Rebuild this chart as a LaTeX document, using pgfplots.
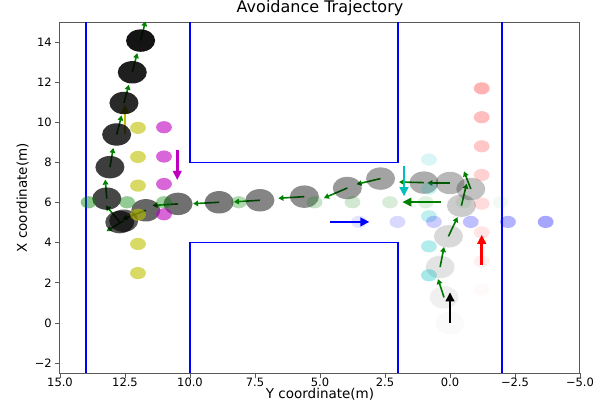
\documentclass[border=0pt]{standalone}
\usepackage{fontspec}
\setmainfont{DejaVu Sans}
\usepackage{pgfplots}
\pgfplotsset{compat=1.18}
\usetikzlibrary{arrows.meta}

\definecolor{mgreen}{rgb}{0,0.5,0}
\definecolor{mcyan}{rgb}{0,0.75,0.75}
\definecolor{mmag}{rgb}{0.75,0,0.75}
\definecolor{myel}{rgb}{0.75,0.75,0}

% filled disc without outline
\pgfdeclareplotmark{fdisc}{\pgfpathcircle{\pgfpointorigin}{\pgfplotmarksize}\pgfusepathqfill}

% discs (ellipses on screen), opacity per point from column a
\pgfplotsset{
  disc/.style 2 args={scatter, only marks, mark=fdisc, mark size=#1,
    mark options={xscale=1.297},
    point meta=\thisrow{a},
    visualization depends on={value \thisrow{a}\as\alp},
    scatter/use mapped color={draw=#2, fill=#2},
    scatter/@pre marker code/.append code={\pgfsetfillopacity{\alp}}},
  wall/.style={blue, line width=1.1pt},
}

\begin{document}
\begin{tikzpicture}
\begin{axis}[
  at={(0,0)}, anchor=south west,
  scale only axis, width=520pt, height=351pt,
  x dir=reverse, xmin=-5, xmax=15, ymin=-2.5, ymax=15,
  xtick={15,12.5,10,7.5,5,2.5,0,-2.5,-5},
  xticklabels={15.0,12.5,10.0,7.5,5.0,2.5,0.0,−2.5,−5.0},
  ytick={-2,0,2,4,6,8,10,12,14},
  yticklabels={−2,0,2,4,6,8,10,12,14},
  tick align=outside, tick pos=left,
  major tick length=5pt,
  every tick/.style={black!65, line width=0.9pt},
  axis line style={black!65, line width=1pt},
  ticklabel style={font=\fontsize{11.5}{13}\selectfont, inner sep=0pt},
  xticklabel style={anchor=base, yshift=-8pt},
  yticklabel style={anchor=east, xshift=-3pt},
  title={Avoidance Trajectory},
  title style={font=\fontsize{16}{18}\selectfont, at={(axis description cs:0.5,1)}, anchor=base, yshift=4pt, inner sep=0pt},
  xlabel={Y coordinate(m)},
  xlabel style={font=\fontsize{13.5}{15}\selectfont, at={(axis description cs:0.5,0)}, anchor=base, yshift=-25pt, inner sep=0pt},
  ylabel={X coordinate(m)},
  ylabel style={font=\fontsize{13.5}{15}\selectfont, at={(axis description cs:-0.072,0.5)}, anchor=center, inner sep=0pt},
]
% walls
\addplot[wall] coordinates {(14,-2.5) (14,15)};
\addplot[wall] coordinates {(10,15) (10,8) (2,8) (2,15)};
\addplot[wall] coordinates {(10,-2.5) (10,4) (2,4) (2,-2.5)};
\addplot[wall] coordinates {(-2,-2.5) (-2,15)};

% robot trajectory
\addplot[disc={11.2pt}{black}] table {
x y a
0.00 0.00 0.02
0.23 1.28 0.06
0.38 2.79 0.11
0.06 4.32 0.15
-0.44 5.85 0.20
-0.80 6.68 0.24
0.00 6.98 0.28
1.00 7.00 0.32
2.67 7.20 0.36
3.95 6.73 0.40
5.60 6.30 0.44
7.31 6.12 0.48
8.88 6.02 0.52
10.46 5.94 0.56
11.70 5.62 0.60
12.55 5.10 0.64
12.70 5.03 0.68
13.20 6.20 0.72
13.08 7.77 0.76
12.82 9.40 0.80
12.54 10.97 0.84
12.22 12.50 0.88
11.90 14.08 0.92
};

% other agents
\addplot[disc={6.1pt}{myel}] table {
x y a
12.0 9.73 0.6
12.0 8.28 0.6
12.0 6.85 0.6
12.0 5.40 0.6
12.0 3.94 0.6
12.0 2.49 0.6
};
\addplot[disc={6.1pt}{mmag}] table {
x y a
11.0 9.76 0.6
11.0 8.30 0.6
11.0 6.93 0.6
11.0 5.42 0.6
};
\addplot[disc={6.1pt}{mgreen}] table {
x y a
13.90 6.02 0.45
12.42 6.02 0.42
11.00 6.02 0.38
8.12 6.02 0.30
5.21 6.02 0.22
3.75 6.02 0.18
2.31 6.02 0.15
0.93 6.02 0.12
-0.52 6.02 0.08
-1.95 6.02 0.05
};
\addplot[disc={6.1pt}{red}] table {
x y a
-1.22 11.70 0.30
-1.22 10.26 0.26
-1.22 8.81 0.22
-1.22 7.38 0.18
-1.22 5.95 0.14
-1.22 4.52 0.10
-1.22 3.08 0.06
-1.22 1.66 0.02
};
\addplot[disc={6.1pt}{mcyan}] table {
x y a
0.81 8.15 0.15
0.81 6.70 0.20
0.81 5.32 0.25
0.81 3.82 0.30
0.81 2.38 0.35
};
\addplot[disc={6.1pt}{blue}] table {
x y a
3.50 5.04 0.10
2.02 5.04 0.15
0.62 5.04 0.20
-0.80 5.04 0.25
-2.23 5.04 0.30
-3.68 5.04 0.35
};

% robot heading arrows
\addplot[mgreen, line width=1.6pt, mark=none, -{Triangle[length=5pt,width=5.5pt]},
  quiver={u=\thisrow{u}, v=\thisrow{v}}] table {
x y u v
0.23 1.28 0.23 0.91
0.38 2.79 -0.15 1.00
0.06 4.32 -0.35 0.96
-0.44 5.85 -0.20 1.10
-0.80 6.68 0.26 0.88
0.00 6.98 0.87 0.00
1.00 7.00 0.96 0.03
2.67 7.20 0.92 -0.28
3.95 6.73 0.90 -0.50
5.60 6.30 1.00 -0.08
7.31 6.12 1.00 -0.08
8.88 6.02 1.00 -0.07
10.46 5.94 0.98 -0.08
11.70 5.62 0.90 -0.45
12.55 5.10 0.66 -0.52
12.70 5.03 0.54 0.83
13.20 6.20 0.06 0.95
13.08 7.77 -0.13 0.96
12.82 9.40 -0.19 0.95
12.54 10.97 -0.19 0.91
12.22 12.50 -0.19 0.96
11.90 14.08 -0.19 0.97
};

% initial headings of the agents
\addplot[black, line width=2.6pt, mark=none, -{Triangle[length=9pt,width=8.5pt]},
  quiver={u=\thisrow{u}, v=\thisrow{v}}] table {
x y u v
0.00 0.00 0 1.53
};
\addplot[red, line width=2.6pt, mark=none, -{Triangle[length=9pt,width=8.5pt]},
  quiver={u=\thisrow{u}, v=\thisrow{v}}] table {
x y u v
-1.22 2.91 0 1.49
};
\addplot[mcyan, line width=2.6pt, mark=none, -{Triangle[length=9pt,width=8.5pt]},
  quiver={u=\thisrow{u}, v=\thisrow{v}}] table {
x y u v
1.77 7.81 0 -1.49
};
\addplot[blue, line width=2.6pt, mark=none, -{Triangle[length=9pt,width=8.5pt]},
  quiver={u=\thisrow{u}, v=\thisrow{v}}] table {
x y u v
4.60 5.04 -1.50 0
};
\addplot[mgreen, line width=2.6pt, mark=none, -{Triangle[length=9pt,width=8.5pt]},
  quiver={u=\thisrow{u}, v=\thisrow{v}}] table {
x y u v
0.36 6.03 1.47 0
};
\addplot[mmag, line width=2.6pt, mark=none, -{Triangle[length=9pt,width=8.5pt]},
  quiver={u=\thisrow{u}, v=\thisrow{v}}] table {
x y u v
10.49 8.63 0 -1.50
};
\addplot[myel, line width=2.6pt, mark=none, -{Triangle[length=9pt,width=8.5pt]},
  quiver={u=\thisrow{u}, v=\thisrow{v}}] table {
x y u v
12.50 9.44 0 1.45
};
\end{axis}
\path[use as bounding box] (-60pt,-34pt) rectangle (550pt,370pt);
\end{tikzpicture}
\end{document}
